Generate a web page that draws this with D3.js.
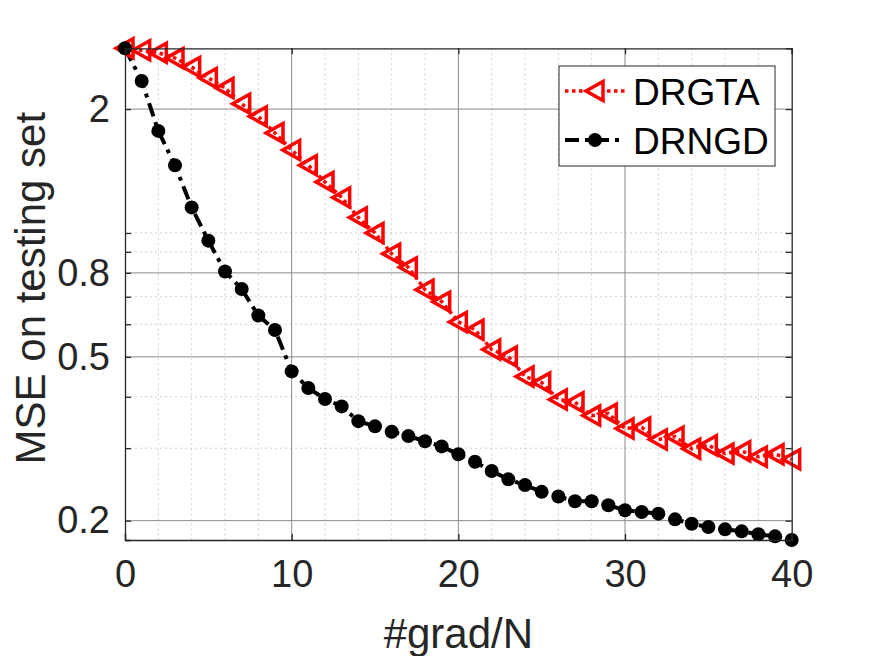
<!DOCTYPE html>
<html>
<head>
<meta charset="utf-8">
<script src="https://cdn.jsdelivr.net/npm/d3@7"></script>
<style>
  body { margin: 0; background: #fff; }
  svg { display: block; font-family: "Liberation Sans", Arial, sans-serif; }
</style>
</head>
<body>
<svg id="chart" width="875" height="656"></svg>
<script>
// data
var gradN = d3.range(0, 41)
var drgta = [2.81, 2.78, 2.74, 2.66, 2.53, 2.38, 2.25, 2.06, 1.92, 1.75,
             1.59, 1.46, 1.33, 1.22, 1.09, 1.00, 0.89, 0.825, 0.728, 0.681,
             0.608, 0.582, 0.521, 0.501, 0.448, 0.433, 0.394, 0.388, 0.360, 0.364,
             0.335, 0.337, 0.315, 0.320, 0.299, 0.305, 0.291, 0.295, 0.286, 0.290,
             0.282]
var drngd = [2.81, 2.34, 1.77, 1.46, 1.154, 0.958, 0.806, 0.731, 0.630, 0.581,
             0.461, 0.420, 0.395, 0.379, 0.349, 0.339, 0.329, 0.321, 0.312, 0.303,
             0.290, 0.278, 0.264, 0.252, 0.244, 0.235, 0.229, 0.223, 0.223, 0.218,
             0.212, 0.210, 0.208, 0.2015, 0.1966, 0.193, 0.1905, 0.1884, 0.1853, 0.1832,
             0.1795]
var seriesNames = ["DRGTA", "DRNGD"]
var xTicks = [0, 10, 20, 30, 40]
var xMinor = [2, 4, 6, 8, 12, 14, 16, 18, 22, 24, 26, 28, 32, 34, 36, 38]
var yTicks = [0.2, 0.5, 0.8, 2]
var yTickLabels = ["0.2", "0.5", "0.8", "2"]
var yMinor = [0.3, 0.4, 0.6, 0.7, 0.9, 1]

var margin = {top: 48.3, right: 83.3, bottom: 116, left: 125}
var W = 875, H = 656
var width = W - margin.left - margin.right
var height = H - margin.top - margin.bottom
var axisColor = "#262626"

var svg = d3.select("#chart")
var g = svg.append("g").attr("transform", "translate(" + margin.left + "," + margin.top + ")")

var x = d3.scaleLinear().domain([0, 40]).range([0, width])
var y = d3.scaleLog().domain(d3.extent(drgta.concat(drngd))).range([height, 0])

// grid lines
g.append("g").selectAll("line").data(xMinor).enter().append("line")
  .attr("x1", d => x(d)).attr("x2", d => x(d))
  .attr("y1", 0).attr("y2", height)
  .attr("stroke", "#cfcfcf").attr("stroke-width", 1).attr("stroke-dasharray", "2,3")
g.append("g").selectAll("line").data(yMinor).enter().append("line")
  .attr("x1", 0).attr("x2", width)
  .attr("y1", d => y(d)).attr("y2", d => y(d))
  .attr("stroke", "#cfcfcf").attr("stroke-width", 1).attr("stroke-dasharray", "2,3")
g.append("g").selectAll("line").data(xTicks.slice(1, -1)).enter().append("line")
  .attr("x1", d => x(d)).attr("x2", d => x(d))
  .attr("y1", 0).attr("y2", height)
  .attr("stroke", "#8a8a8a").attr("stroke-width", 1)
g.append("g").selectAll("line").data(yTicks).enter().append("line")
  .attr("x1", 0).attr("x2", width)
  .attr("y1", d => y(d)).attr("y2", d => y(d))
  .attr("stroke", "#8a8a8a").attr("stroke-width", 1)

// lines
var line = d3.line().x((d, i) => x(gradN[i])).y(d => y(d))

g.append("path").datum(drgta)
  .attr("d", line)
  .attr("fill", "none").attr("stroke", "#ff0000")
  .attr("stroke-width", 3.5).attr("stroke-dasharray", "3.5,3.5")

g.append("path").datum(drngd)
  .attr("d", line)
  .attr("fill", "none").attr("stroke", "#000")
  .attr("stroke-width", 4).attr("stroke-dasharray", "14,6,4,6")

// markers
var triPath = "M-9,0L8,-9.5L8,9.5Z"
g.append("g").selectAll("path").data(drgta).enter().append("path")
  .attr("d", triPath)
  .attr("transform", (d, i) => "translate(" + x(gradN[i]) + "," + y(d) + ")")
  .attr("fill", "none").attr("stroke", "#ff0000").attr("stroke-width", 3.5)
  .attr("stroke-linejoin", "miter")

g.append("g").selectAll("circle").data(drngd).enter().append("circle")
  .attr("cx", (d, i) => x(gradN[i])).attr("cy", d => y(d))
  .attr("r", 7).attr("fill", "#000")

// axes
var xAxisB = d3.axisBottom(x).tickValues(xTicks).tickSize(-6).tickPadding(20).tickFormat(d3.format("d"))
var xAxisT = d3.axisTop(x).tickValues(xTicks).tickSize(-6).tickFormat("")
var yAxisL = d3.axisLeft(y).tickValues(yTicks.concat(yMinor)).tickSize(-6).tickPadding(15)
  .tickFormat(d => { var k = yTicks.indexOf(d); return k < 0 ? "" : yTickLabels[k] })
var yAxisR = d3.axisRight(y).tickValues(yTicks.concat(yMinor)).tickSize(-6).tickFormat("")

function style(sel) {
  sel.select(".domain").attr("stroke", axisColor).attr("stroke-width", 1.3)
  sel.selectAll(".tick line").attr("stroke", axisColor).attr("stroke-width", 1.3)
  sel.selectAll(".tick text").attr("fill", axisColor)
    .style("font-size", "38px").style("font-family", "'Liberation Sans', Arial, sans-serif")
}
g.append("g").attr("transform", "translate(0," + height + ")").call(xAxisB).call(style)
g.append("g").call(xAxisT).call(style)
g.append("g").call(yAxisL).call(style)
g.append("g").attr("transform", "translate(" + width + ",0)").call(yAxisR).call(style)

// axis labels
svg.append("text")
  .attr("x", margin.left + width / 2).attr("y", 648)
  .attr("text-anchor", "middle").attr("fill", axisColor)
  .style("font-size", "42px")
  .text("#grad/N")

svg.append("text")
  .attr("transform", "translate(45," + (margin.top + height / 2 - 6) + ") rotate(-90)")
  .attr("text-anchor", "middle").attr("fill", axisColor)
  .style("font-size", "42px")
  .text("MSE on testing set")

// legend
var legend = svg.append("g").attr("transform", "translate(559,66)")
legend.append("rect").attr("width", 216).attr("height", 100)
  .attr("fill", "#fff").attr("stroke", axisColor).attr("stroke-width", 1)

var legendRows = legend.selectAll("g.row").data(seriesNames).enter().append("g")
  .attr("class", "row")
  .attr("transform", (d, i) => "translate(0," + (25 + i * 49) + ")")

legendRows.append("line")
  .attr("x1", 6).attr("x2", 66).attr("y1", 0).attr("y2", 0)
  .attr("stroke", (d, i) => i === 0 ? "#ff0000" : "#000")
  .attr("stroke-width", (d, i) => i === 0 ? 3.5 : 4)
  .attr("stroke-dasharray", (d, i) => i === 0 ? "3.5,3.5" : "14,6,4,6")

legendRows.filter((d, i) => i === 0).append("path")
  .attr("d", triPath).attr("transform", "translate(36,0)")
  .attr("fill", "#fff").attr("stroke", "#ff0000").attr("stroke-width", 3.5)
legendRows.filter((d, i) => i === 1).append("circle")
  .attr("cx", 36).attr("cy", 0).attr("r", 7).attr("fill", "#000")

legendRows.append("text")
  .attr("x", 74).attr("y", 14)
  .attr("fill", "#000").style("font-size", "37px")
  .text(d => d)
</script>
</body>
</html>
